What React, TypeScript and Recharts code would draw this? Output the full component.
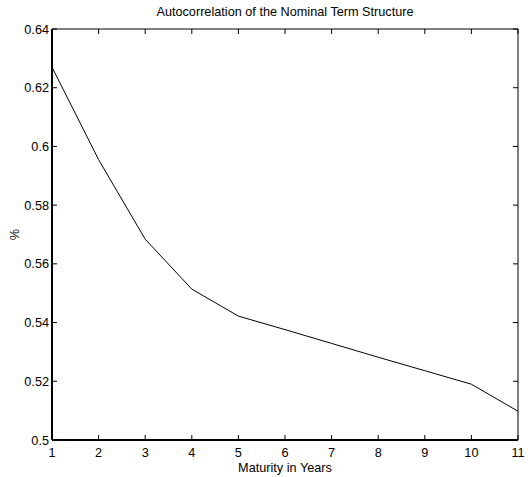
import { LineChart, Line, XAxis, YAxis, Label } from 'recharts';

// Maturities (years) and first-order autocorrelation of yields at each maturity
const maturities = [1, 2, 3, 4, 5, 6, 7, 8, 9, 10, 11];
const autocorr = [0.627, 0.5955, 0.5684, 0.5514, 0.5422, 0.5376, 0.5329, 0.5282, 0.5236, 0.519, 0.5098];

const xTicks = [1, 2, 3, 4, 5, 6, 7, 8, 9, 10, 11];
const yTicks = [0.5, 0.52, 0.54, 0.56, 0.58, 0.6, 0.62, 0.64];

const data = maturities.map((m, i) => ({ maturity: m, value: autocorr[i] }));

const FONT = '"Liberation Sans", Arial, Helvetica, sans-serif';
const FS = 12.7;
const TICK_LEN = 5;

// ticks point into the plot box, labels sit outside
const BottomTick = ({ x, y, payload }: any) => (
  <g>
    <line x1={x} y1={y} x2={x} y2={y - TICK_LEN} stroke="#000" />
    <text x={x} y={y + 17} textAnchor="middle" fontSize={FS} fontFamily={FONT} fill="#000">
      {payload.value}
    </text>
  </g>
);

const LeftTick = ({ x, y, payload }: any) => (
  <g>
    <line x1={x} y1={y} x2={x + TICK_LEN} y2={y} stroke="#000" />
    <text x={x - 3} y={y + 4.5} textAnchor="end" fontSize={FS} fontFamily={FONT} fill="#000">
      {String(payload.value)}
    </text>
  </g>
);

const TopTick = ({ x, y }: any) => (
  <line x1={x} y1={y} x2={x} y2={y + TICK_LEN} stroke="#000" />
);

const RightTick = ({ x, y }: any) => (
  <line x1={x} y1={y} x2={x - TICK_LEN} y2={y} stroke="#000" />
);

export default function App() {
  return (
    <div style={{ position: 'absolute', left: 0, top: 0, background: '#fff' }}>
      <LineChart
        width={530}
        height={477}
        data={data}
        margin={{ top: 28, right: 11, bottom: 0, left: 0 }}
      >
        <XAxis
          dataKey="maturity"
          type="number"
          domain={[1, 11]}
          ticks={xTicks}
          height={37}
          tickSize={0}
          tickMargin={0}
          tickLine={false}
          tick={<BottomTick />}
          axisLine={{ stroke: '#000', strokeWidth: 2 }}
          allowDataOverflow
        >
          <Label
            value="Maturity in Years"
            position="insideBottom"
            offset={5}
            style={{ fontSize: FS, fontFamily: FONT, fill: '#000' }}
          />
        </XAxis>
        <XAxis
          xAxisId="top"
          orientation="top"
          dataKey="maturity"
          type="number"
          domain={[1, 11]}
          ticks={xTicks}
          height={1}
          tickSize={0}
          tickMargin={0}
          tickLine={false}
          tick={<TopTick />}
          axisLine={{ stroke: '#000', strokeWidth: 1 }}
          allowDataOverflow
        >
          <Label
            value="Autocorrelation of the Nominal Term Structure"
            position="top"
            offset={12}
            style={{ fontSize: FS, fontFamily: FONT, fill: '#000' }}
          />
        </XAxis>
        <YAxis
          type="number"
          domain={[0.5, 0.64]}
          ticks={yTicks}
          width={52}
          tickSize={0}
          tickMargin={0}
          tickLine={false}
          tick={<LeftTick />}
          axisLine={{ stroke: '#000', strokeWidth: 2 }}
          allowDataOverflow
        >
          <Label
            value="%"
            angle={-90}
            position="insideLeft"
            offset={14}
            style={{ fontSize: FS, fontFamily: FONT, fill: '#000', textAnchor: 'middle' }}
          />
        </YAxis>
        <YAxis
          yAxisId="right"
          orientation="right"
          type="number"
          domain={[0.5, 0.64]}
          ticks={yTicks}
          width={1}
          tickSize={0}
          tickMargin={0}
          tickLine={false}
          tick={<RightTick />}
          axisLine={{ stroke: '#000', strokeWidth: 1 }}
          allowDataOverflow
        />
        <Line
          type="linear"
          dataKey="value"
          stroke="#000"
          strokeWidth={1}
          dot={false}
          isAnimationActive={false}
        />
      </LineChart>
    </div>
  );
}
